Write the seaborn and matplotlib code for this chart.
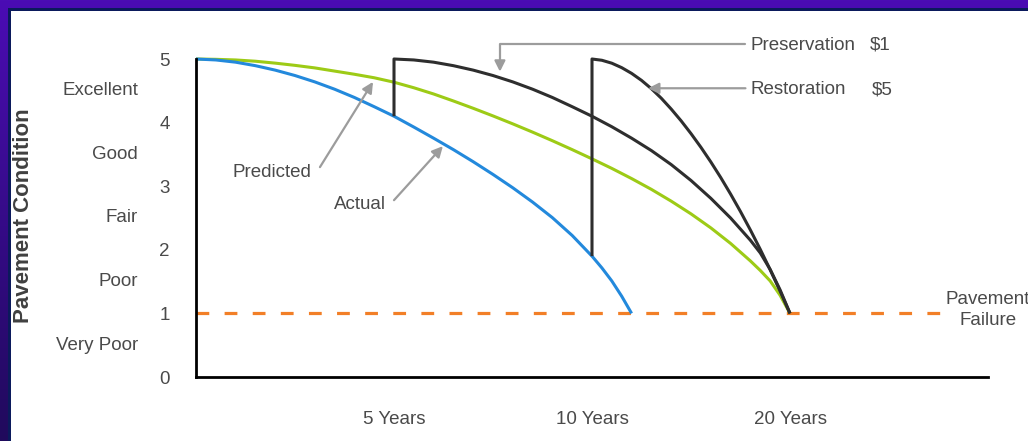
import numpy as np
import pandas as pd
import matplotlib
matplotlib.use("Agg")
import matplotlib.pyplot as plt
from matplotlib.colors import LinearSegmentedColormap
from matplotlib.patches import Rectangle
from matplotlib.transforms import blended_transform_factory
import seaborn as sns

# ---- data -------------------------------------------------------------
year_pos = [1, 2, 3]
year_labels = ["5 Years", "10 Years", "20 Years"]
condition_ticks = [0, 1, 2, 3, 4, 5]
condition_pos = [4.5, 3.5, 2.5, 1.5, 0.5]
condition_labels = ["Excellent", "Good", "Fair", "Poor", "Very Poor"]

actual_x = [0.0, 0.1, 0.2, 0.3, 0.4, 0.5, 0.6, 0.7, 0.8, 0.9, 1.0,
            1.1, 1.2, 1.3, 1.4, 1.5, 1.6, 1.7, 1.8, 1.9, 2.0,
            2.05, 2.1, 2.15, 2.2]
actual_y = [5.00, 4.985, 4.95, 4.895, 4.825, 4.74, 4.64, 4.525, 4.395, 4.25, 4.10,
            3.93, 3.755, 3.575, 3.385, 3.185, 2.975, 2.75, 2.505, 2.225, 1.90,
            1.715, 1.51, 1.27, 1.00]

predicted_x = [0.0, 0.1, 0.2, 0.3, 0.4, 0.5, 0.6, 0.7, 0.8, 0.9, 1.0,
               1.1, 1.2, 1.3, 1.4, 1.5, 1.6, 1.7, 1.8, 1.9, 2.0,
               2.1, 2.2, 2.3, 2.4, 2.5, 2.6, 2.7, 2.8, 2.85, 2.9, 2.95, 3.0]
predicted_y = [5.00, 4.995, 4.985, 4.965, 4.935, 4.90, 4.86, 4.81, 4.76, 4.705, 4.635,
               4.548, 4.45, 4.34, 4.225, 4.105, 3.98, 3.85, 3.715, 3.575, 3.43,
               3.28, 3.12, 2.95, 2.765, 2.565, 2.345, 2.10, 1.825, 1.675, 1.51, 1.285, 1.00]

preservation_x = [1.0, 1.0, 1.1, 1.2, 1.3, 1.4, 1.5, 1.6, 1.7, 1.8, 1.9, 2.0,
                  2.1, 2.2, 2.3, 2.4, 2.5, 2.6, 2.7, 2.8, 2.85, 2.9, 2.95, 3.0]
preservation_y = [4.10, 5.00, 4.985, 4.95, 4.895, 4.825, 4.74, 4.64, 4.525, 4.395, 4.25, 4.10,
                  3.935, 3.755, 3.56, 3.34, 3.09, 2.81, 2.50, 2.15, 1.95, 1.69, 1.37, 1.00]

restoration_x = [2.0, 2.0, 2.05, 2.1, 2.15, 2.2, 2.25, 2.3, 2.35, 2.4, 2.45, 2.5,
                 2.55, 2.6, 2.65, 2.7, 2.75, 2.8, 2.85, 2.9, 2.95, 3.0]
restoration_y = [1.90, 5.00, 4.98, 4.934, 4.864, 4.774, 4.664, 4.533, 4.383, 4.213, 4.028, 3.827,
                 3.612, 3.382, 3.137, 2.876, 2.601, 2.311, 2.006, 1.685, 1.35, 1.00]

failure_x = [0, 3.77]
failure_y = [1, 1]

# ---- style --------------------------------------------------------------
sns.set_style("white")
plt.rcParams["font.family"] = ["Liberation Sans", "DejaVu Sans"]

W, H = 1028, 441
fig = plt.figure(figsize=(W / 100, H / 100), dpi=100)

# slide background: purple gradient with a white panel
bg = fig.add_axes([0, 0, 1, 1], zorder=-10)
grad = np.linspace(0, 1, 256).reshape(-1, 1)
cmap = LinearSegmentedColormap.from_list("slide", ["#4b0cb4", "#200a5c"])
bg.imshow(grad, aspect="auto", cmap=cmap, extent=[0, 1, 0, 1])
bg.add_patch(Rectangle((8 / W, 0), 1, (H - 8) / H, transform=bg.transAxes,
                       facecolor="#0b1a5c", edgecolor="none"))
bg.add_patch(Rectangle((11 / W, 0), 1, (H - 11) / H, transform=bg.transAxes,
                       facecolor="white", edgecolor="none"))
bg.set_xlim(0, 1)
bg.set_ylim(0, 1)
bg.axis("off")

ax = fig.add_axes([196 / W, (H - 377) / H, 792 / W, 318 / H])
ax.set_facecolor("none")

BLUE = "#2389dc"
GREEN = "#9dcb16"
DARK = "#2e2e2e"
ORANGE = "#f27f27"
GRAY = "#9c9c9c"
TEXT = "#4a4a4a"

def draw(x, y, color, lw=2.2, **kw):
    df = pd.DataFrame({"x": x, "y": y})
    sns.lineplot(data=df, x="x", y="y", ax=ax, color=color, lw=lw,
                 sort=False, estimator=None, clip_on=False, **kw)

draw(failure_x, failure_y, ORANGE, lw=2.3, linestyle=(0, (4.0, 4.8)),
     dash_capstyle="butt")
draw(predicted_x, predicted_y, GREEN, solid_capstyle="butt")
draw(actual_x, actual_y, BLUE, solid_capstyle="butt")
draw(preservation_x, preservation_y, DARK, solid_capstyle="butt")
draw(restoration_x, restoration_y, DARK, solid_capstyle="butt")

ax.set_xlim(0, 4)
ax.set_ylim(0, 5)
ax.set_xlabel("")
ax.set_ylabel("")
ax.set_xticks(year_pos)
ax.set_xticklabels(year_labels)
ax.set_yticks(condition_ticks)

for side in ("top", "right"):
    ax.spines[side].set_visible(False)
for side in ("left", "bottom"):
    ax.spines[side].set_color("black")
    ax.spines[side].set_linewidth(2.0)
ax.spines["left"].set_zorder(5)

ax.tick_params(axis="y", direction="out", length=10, width=1.6, color="#8a8a8a",
               labelsize=13.5, labelcolor=TEXT, pad=9)
ax.tick_params(axis="x", direction="out", length=11.5, width=1.6, color="#8a8a8a",
               labelsize=13.5, labelcolor=TEXT, pad=13)

# condition category labels left of the numeric ticks
cat_tr = blended_transform_factory(fig.transFigure, ax.transData)
for pos, lab in zip(condition_pos, condition_labels):
    ax.text(138 / W, pos, lab, transform=cat_tr, ha="right", va="center",
            fontsize=13.5, color=TEXT)

fig.text(24 / W, 1 - 216 / H, "Pavement Condition", rotation=90, ha="center",
         va="center", fontsize=16, fontweight="bold", color="#404040")

arrow = dict(arrowstyle="-|>", color=GRAY, lw=1.6, mutation_scale=16,
             shrinkA=0, shrinkB=0)

ax.annotate("", xy=(0.894, 4.64), xytext=(0.626, 3.30), arrowprops=arrow,
            annotation_clip=False)
ax.text(0.384, 3.22, "Predicted", ha="center", va="center", fontsize=13.5,
        color=TEXT)

ax.annotate("", xy=(1.247, 3.63), xytext=(1.0, 2.78), arrowprops=arrow,
            annotation_clip=False)
ax.text(0.828, 2.72, "Actual", ha="center", va="center", fontsize=13.5,
        color=TEXT)

elbow = dict(arrow, connectionstyle="angle,angleA=180,angleB=90,rad=0")
ax.annotate("", xy=(1.535, 4.80), xytext=(2.775, 5.24), arrowprops=elbow,
            annotation_clip=False)
ax.text(2.798, 5.22, "Preservation", ha="left", va="center", fontsize=13.5,
        color=TEXT, clip_on=False)
ax.text(3.404, 5.22, "$1", ha="left", va="center", fontsize=13.5,
        color=TEXT, clip_on=False)

ax.annotate("", xy=(2.283, 4.54), xytext=(2.775, 4.54), arrowprops=arrow,
            annotation_clip=False)
ax.text(2.798, 4.52, "Restoration", ha="left", va="center", fontsize=13.5,
        color=TEXT)
ax.text(3.414, 4.52, "$5", ha="left", va="center", fontsize=13.5, color=TEXT)

ax.text(4.0, 1.06, "Pavement\nFailure", ha="center", va="center",
        fontsize=13.5, color=TEXT, linespacing=1.3, clip_on=False)

fig.savefig("out.png", dpi=100)
